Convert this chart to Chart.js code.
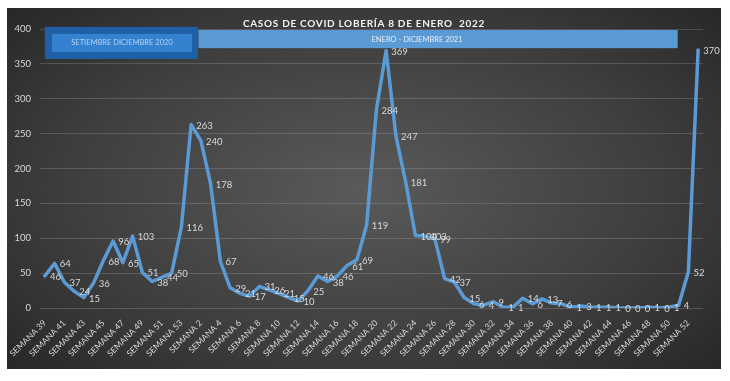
<!DOCTYPE html>
<html>
<head>
<meta charset="utf-8">
<script src="https://cdn.jsdelivr.net/npm/chart.js@4"></script>
<style>
  html, body { margin: 0; padding: 0; background: #fff; }
  #wrap {
    position: absolute; left: 7px; top: 8px; width: 714px; height: 361px;
    background: radial-gradient(ellipse 75% 80% at 50% 50%, #5a5a5a 0%, #3e3e3e 55%, #222 100%);
  }
</style>
</head>
<body>
<div id="wrap"><canvas id="myChart"></canvas></div>
<script>
// weeks: sep-dec 2020 (39..53), all 2021 (1..52), first week of 2022
const weeks2020 = [39,40,41,42,43,44,45,46,47,48,49,50,51,52,53];
const weeks2021 = Array.from({length: 52}, (_, i) => i + 1);
const weeks2022 = [1];
const labels = [...weeks2020, ...weeks2021, ...weeks2022].map(w => 'SEMANA ' + w);

const cases = [
  46, 64, 37, 24, 15, 36, 68, 96, 65, 103, 51, 38, 44, 50, 116,
  263, 240, 178, 67, 29, 21, 17, 31, 26, 21, 15, 10, 25, 46, 38, 46, 61, 69, 119, 284,
  369, 247, 181, 104, 103, 99, 42, 37, 15, 6, 4, 9, 1, 1, 14, 6, 13, 7, 6, 1, 3,
  1, 1, 1, 0, 0, 0, 1, 0, 1, 4, 52,
  370
];

const yTicks = [0, 50, 100, 150, 200, 250, 300, 350, 400];

const titleText = 'CASOS DE COVID LOBERÍA 8 DE ENERO  2022';
const period2020 = 'SETIEMBRE DICIEMBRE 2020';
const period2021 = 'ENERO - DICIEMBRE 2021';

const txtColor = '#d9d9d9';
const fontFam = 'Lato, "Open Sans", sans-serif';

// draws title, the two period boxes and the value labels
const extras = {
  id: 'extras',
  beforeDatasetsDraw(chart) {
    const ctx = chart.ctx;
    const x = chart.scales.x, y = chart.scales.y;
    const px = v => x.getPixelForValue(0) + v * (x.getPixelForValue(1) - x.getPixelForValue(0));
    ctx.save();
    // 2020 box
    ctx.fillStyle = '#1f5fa5';
    ctx.fillRect(px(0), y.getPixelForValue(403), px(15.7) - px(0), y.getPixelForValue(357) - y.getPixelForValue(403));
    ctx.fillStyle = '#3481d0';
    ctx.fillRect(px(0.72), y.getPixelForValue(393), px(15.1) - px(0.72), y.getPixelForValue(367) - y.getPixelForValue(393));
    ctx.fillStyle = '#b3d3f5';
    ctx.font = '7.5px ' + fontFam;
    ctx.textAlign = 'center';
    ctx.textBaseline = 'middle';
    ctx.fillText(period2020, (px(0.72) + px(15.1)) / 2, y.getPixelForValue(380));
    // 2021 box
    ctx.fillStyle = '#5b9bd5';
    ctx.fillRect(px(15.75), y.getPixelForValue(398.5), px(64.9) - px(15.75), y.getPixelForValue(372.5) - y.getPixelForValue(398.5));
    ctx.fillStyle = '#e4eefa';
    ctx.textAlign = 'left';
    ctx.fillText(period2021, px(33.5), y.getPixelForValue(385.5));
    ctx.restore();
  },
  afterDatasetsDraw(chart) {
    const ctx = chart.ctx;
    const meta = chart.getDatasetMeta(0);
    ctx.save();
    ctx.fillStyle = txtColor;
    ctx.font = '9.5px ' + fontFam;
    ctx.textAlign = 'left';
    ctx.textBaseline = 'middle';
    meta.data.forEach((pt, i) => {
      ctx.fillText(String(cases[i]), pt.x + 5, pt.y + 1);
    });
    // title
    ctx.fillStyle = '#f2f2f2';
    ctx.font = 'bold 10px ' + fontFam;
    ctx.letterSpacing = '0.7px';
    ctx.textAlign = 'center';
    ctx.fillText(titleText, chart.width / 2, 16);
    ctx.restore();
  }
};

let myChart = null;

function drawChart() {
  const ctx = document.getElementById('myChart').getContext('2d');
  if (myChart) myChart.destroy();
  myChart = new Chart(ctx, {
    type: 'line',
    data: {
      labels: labels,
      datasets: [{
        data: cases,
        borderColor: '#5b9bd5',
        borderWidth: 3.5,
        borderJoinStyle: 'round',
        borderCapStyle: 'round',
        pointRadius: 0,
        tension: 0,
        fill: false
      }]
    },
    options: {
      responsive: true,
      maintainAspectRatio: false,
      animation: false,
      layout: { padding: { top: 21, right: 18, left: 0, bottom: 0 } },
      plugins: {
        legend: { display: false },
        tooltip: { enabled: false },
        title: { display: false }
      },
      scales: {
        x: {
          offset: true,
          grid: { display: false },
          border: { display: false },
          afterFit(s) { s.height = 61; },
          ticks: {
            autoSkip: false,
            minRotation: 45,
            maxRotation: 45,
            padding: 2,
            color: txtColor,
            font: { family: fontFam, size: 8.5 },
            callback(v, i) { return i % 2 === 0 ? labels[i] : ''; }
          }
        },
        y: {
          min: 0,
          max: 400,
          afterBuildTicks(s) { s.ticks = yTicks.map(v => ({ value: v })); },
          afterFit(s) { s.width = 33; },
          border: { display: false },
          grid: { color: 'rgba(200,200,200,0.22)', lineWidth: 1, drawTicks: false },
          ticks: {
            padding: 9,
            color: txtColor,
            font: { family: fontFam, size: 9.5 }
          }
        }
      }
    },
    plugins: [extras]
  });
}

drawChart();
</script>
</body>
</html>
